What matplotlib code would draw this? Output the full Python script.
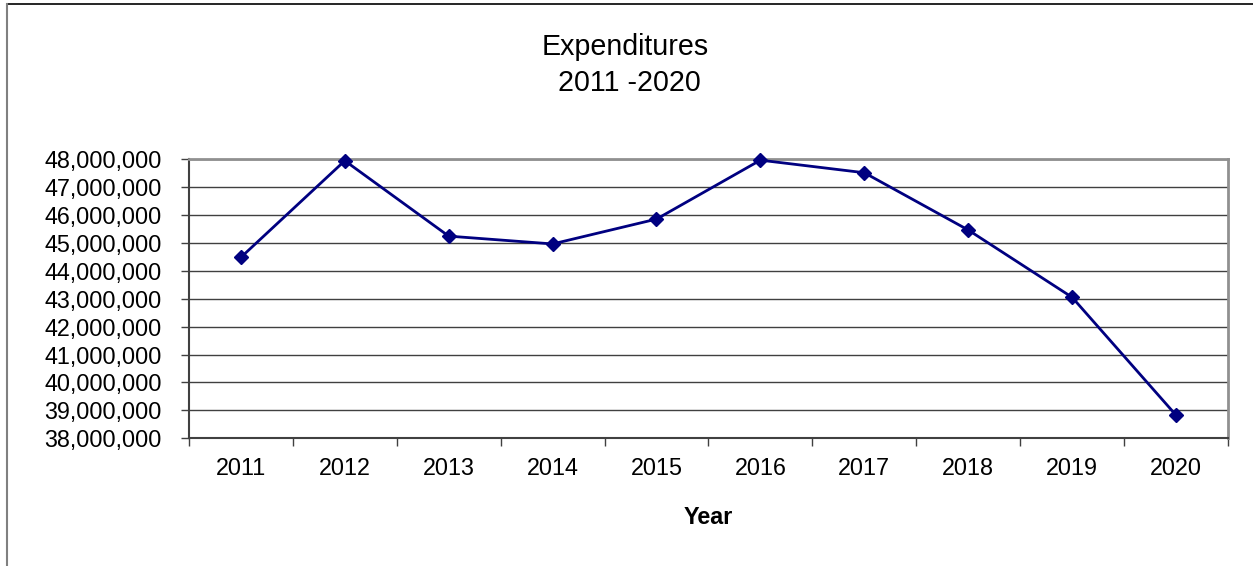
import matplotlib.pyplot as plt
from matplotlib.ticker import FuncFormatter, FixedLocator
from matplotlib.lines import Line2D

plt.rcParams['font.family'] = ['Liberation Sans', 'DejaVu Sans']

years = ['2011', '2012', '2013', '2014', '2015', '2016', '2017', '2018', '2019', '2020']
expenditures = [44480000, 47940000, 45240000, 44960000, 45850000,
                47960000, 47510000, 45460000, 43050000, 38830000]

fig = plt.figure(figsize=(12.53, 5.66), dpi=100)
ax = fig.add_axes([0.1508, 0.2256, 0.8292, 0.4934])

x = list(range(len(years)))
ax.plot(x, expenditures, color='#000080', lw=2, marker='D', markersize=7.5,
        zorder=3, clip_on=False)

ax.set_xlim(-0.5, len(years) - 0.5)
ax.set_ylim(38000000, 48000000)
ax.yaxis.set_major_locator(FixedLocator(range(38000000, 48000001, 1000000)))
ax.yaxis.set_major_formatter(FuncFormatter(lambda v, p: f'{int(v):,}'))
ax.grid(axis='y', color='#404040', lw=1)
ax.set_axisbelow(True)

# category boundaries as ticks, labels at centres
ax.xaxis.set_major_locator(FixedLocator([i - 0.5 for i in range(len(years) + 1)]))
ax.xaxis.set_major_formatter(FuncFormatter(lambda v, p: ''))
ax.xaxis.set_minor_locator(FixedLocator(x))
ax.set_xticklabels(years, minor=True)
ax.tick_params(axis='x', which='major', length=6, width=1, color='#404040')
ax.tick_params(axis='x', which='minor', length=0, pad=13.5, labelsize=16.8)
ax.tick_params(axis='y', length=6, width=1, color='#404040', labelsize=16.8, pad=13.4)

for side in ['left', 'bottom']:
    ax.spines[side].set_color('#404040')
    ax.spines[side].set_linewidth(1.5)
for side in ['top', 'right']:
    ax.spines[side].set_color('#909090')
    ax.spines[side].set_linewidth(2)

ax.set_xlabel('Year', fontsize=16.8, fontweight='bold', labelpad=19)
fig.text(0.4988, 0.885, 'Expenditures\n 2011 -2020', ha='center', va='center',
         fontsize=20.6, linespacing=1.38)

# outer chart frame (top and left edges visible)
fig.add_artist(Line2D([0.0056, 1], [0.9929, 0.9929], color='black', lw=1.2,
                      transform=fig.transFigure))
fig.add_artist(Line2D([0.0056, 0.0056], [0, 0.9929], color='#808080', lw=1.5,
                      transform=fig.transFigure))

fig.savefig('out.png', dpi=100)
